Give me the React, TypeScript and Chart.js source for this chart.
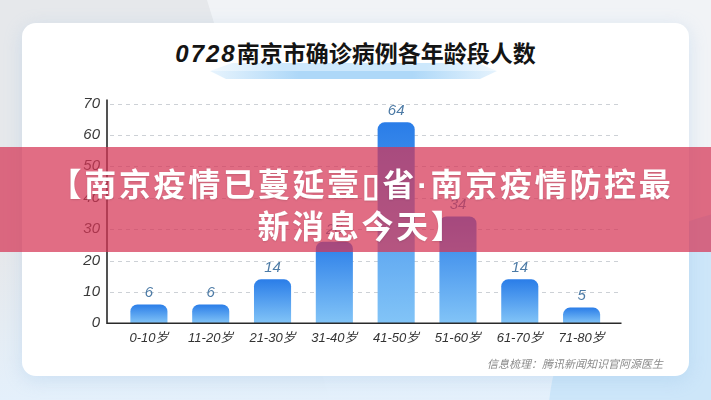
import React, { useEffect, useRef } from "react";
import { Chart, registerables } from "chart.js";

Chart.register(...registerables);

// ---- data ----
const categories = ["0-10岁", "11-20岁", "21-30岁", "31-40岁", "41-50岁", "51-60岁", "61-70岁", "71-80岁"];
const cases = [6, 6, 14, 26, 64, 34, 14, 5];
const yMin = 0;
const yMax = 70;
const yStep = 10;
const titleDigits = "0728";
const titleRest = "南京市确诊病例各年龄段人数";
const sourceText = "信息梳理：腾讯新闻知识官阿源医生";
const bannerLine1a = "【南京疫情已蔓延壹▯省";
const bannerDot = "·";
const bannerLine1b = "南京疫情防控最";
const bannerLine2 = "新消息今天】";

const numFont = "'Liberation Sans', 'Noto Sans CJK SC', sans-serif";

const customDraw = {
  id: "customDraw",
  beforeDatasetsDraw(chart: any) {
    const { ctx, chartArea, scales } = chart;
    const y = scales.y;
    const axisX = chartArea.left - 11;
    ctx.save();
    ctx.strokeStyle = "#cdd1d6";
    ctx.lineWidth = 1;
    ctx.setLineDash([4, 4]);
    y.ticks.forEach((t: any) => {
      if (t.value === yMin) return;
      const py = Math.round(y.getPixelForValue(t.value)) + 0.5;
      ctx.beginPath();
      ctx.moveTo(axisX + 3, py);
      ctx.lineTo(chartArea.right + 7, py);
      ctx.stroke();
    });
    ctx.restore();
  },
  afterDatasetsDraw(chart: any) {
    const { ctx, chartArea, scales } = chart;
    const y = scales.y;
    const axisX = chartArea.left - 11;
    const y0 = y.getPixelForValue(yMin);
    ctx.save();
    ctx.strokeStyle = "#2a2a2a";
    ctx.lineWidth = 1.6;
    ctx.beginPath();
    ctx.moveTo(axisX, y.getPixelForValue(yMax) - 4);
    ctx.lineTo(axisX, y0);
    ctx.lineTo(chartArea.right + 9, y0);
    ctx.stroke();

    // value labels
    const meta = chart.getDatasetMeta(0);
    ctx.fillStyle = "#4d7ba6";
    ctx.font = "italic 15px " + numFont;
    ctx.textAlign = "center";
    ctx.textBaseline = "middle";
    meta.data.forEach((bar: any, i: number) => {
      ctx.fillText(String(chart.data.datasets[0].data[i]), bar.x, bar.y - 12);
    });
    ctx.restore();
  },
};

export default function App() {
  const canvasRef = useRef<HTMLCanvasElement>(null);

  useEffect(() => {
    const chart = new Chart(canvasRef.current!, {
      type: "bar",
      data: {
        labels: categories,
        datasets: [
          {
            data: cases,
            backgroundColor: (c: any) => {
              const ch = c.chart;
              const { chartArea, scales } = ch;
              if (!chartArea || !scales.y || c.raw === undefined) return "#2f84e8";
              const top = scales.y.getPixelForValue(c.raw);
              const base = scales.y.getPixelForValue(yMin);
              if (!isFinite(top) || !isFinite(base) || base - top < 1) return "#2f84e8";
              const g = ch.ctx.createLinearGradient(0, top, 0, base);
              g.addColorStop(0, "#2a7de8");
              g.addColorStop(1, "#82c4f7");
              return g;
            },
            borderRadius: 7,
            borderSkipped: "start",
            barPercentage: 0.6,
            categoryPercentage: 1,
          },
        ],
      },
      options: {
        responsive: false,
        animation: false,
        events: [],
        layout: { padding: { left: 0, top: 103.5, right: 98.5, bottom: 0 } },
        plugins: {
          legend: { display: false },
          tooltip: { enabled: false },
          title: { display: false },
        },
        scales: {
          x: {
            offset: true,
            grid: { display: false, drawTicks: false },
            border: { display: false },
            ticks: {
              color: "#333333",
              padding: 7,
              font: { family: numFont, size: 13, style: "italic" },
            },
            afterFit: (s: any) => {
              s.height = 76.7;
            },
          },
          y: {
            min: yMin,
            max: yMax,
            grid: { display: false, drawTicks: false },
            border: { display: false },
            ticks: {
              stepSize: yStep,
              color: "#3a3a3a",
              padding: 18,
              font: { family: numFont, size: 15, style: "italic" },
            },
            afterFit: (s: any) => {
              s.width = 118;
            },
          },
        },
      },
      plugins: [customDraw],
    });
    return () => chart.destroy();
  }, []);

  return (
    <div
      style={{
        position: "absolute",
        left: 0,
        top: 0,
        width: 711,
        height: 400,
        overflow: "hidden",
        background: "#f1f3f6",
        fontFamily: "'Noto Sans CJK SC', sans-serif",
      }}
    >
      <div
        style={{
          position: "absolute",
          inset: 0,
          background: "#e6e8eb",
          clipPath: "polygon(0 0, 207px 0, 330px 400px, 0 400px)",
        }}
      />
      <div
        style={{
          position: "absolute",
          left: 0,
          top: 250,
          width: 711,
          height: 150,
          background: "linear-gradient(180deg, rgba(226,239,251,0) 0%, #e4f0fb 100%)",
        }}
      />
      <div
        style={{
          position: "absolute",
          left: 548,
          top: 208,
          width: 430,
          height: 430,
          borderRadius: "50%",
          background: "#cde6f9",
        }}
      />
      {/* card */}
      <div
        style={{
          position: "absolute",
          left: 22,
          top: 23,
          width: 667,
          height: 353,
          borderRadius: 14,
          background: "#ffffff",
          boxShadow: "0 4px 18px rgba(140,185,230,0.28)",
        }}
      />
      {/* ribbon under title */}
      <div
        style={{
          position: "absolute",
          left: 0,
          top: 0,
          width: 711,
          height: 400,
          background: "linear-gradient(90deg, rgba(200,230,252,0.2) 29%, #cde8fc 40%, #cde8fc 60%, rgba(200,230,252,0.2) 71%)",
          clipPath: "polygon(232px 63px, 478px 63px, 497px 71px, 210px 71px)",
        }}
      />
      <div
        style={{
          position: "absolute",
          left: 0,
          top: 0,
          width: 711,
          height: 400,
          background: "linear-gradient(90deg, rgba(170,214,248,0.3) 30%, #aed8f8 42%, #aed8f8 58%, rgba(170,214,248,0.3) 70%)",
          clipPath: "polygon(210px 71px, 497px 71px, 480px 79px, 226px 79px)",
        }}
      />
      {/* title */}
      <div
        style={{
          position: "absolute",
          left: 0,
          top: 36,
          width: 711,
          textAlign: "center",
          fontSize: 23,
          lineHeight: "32px",
          fontWeight: 700,
          color: "#141414",
          whiteSpace: "nowrap",
        }}
      >
        <span style={{ fontStyle: "italic", fontFamily: numFont, letterSpacing: 2, fontSize: 24 }}>{titleDigits}</span>
        {titleRest}
      </div>
      <canvas
        ref={canvasRef}
        width={711}
        height={400}
        style={{ position: "absolute", left: 0, top: 0, width: 711, height: 400 }}
      />
      {/* source */}
      <div
        style={{
          position: "absolute",
          right: 48,
          top: 355,
          fontSize: 11,
          lineHeight: "16px",
          fontStyle: "italic",
          color: "#8a8a8a",
          whiteSpace: "nowrap",
        }}
      >
        {sourceText}
      </div>
      {/* overlay banner */}
      <div
        style={{
          position: "absolute",
          left: 0,
          top: 147,
          width: 711,
          height: 105,
          background: "rgba(214,52,84,0.72)",
        }}
      />
      <div
        style={{
          position: "absolute",
          left: 6,
          top: 163,
          width: 711,
          textAlign: "center",
          color: "#ffffff",
          fontWeight: 700,
          fontSize: 32,
          letterSpacing: 2.7,
          lineHeight: "39px",
          whiteSpace: "nowrap",
          textShadow: "0 1px 2px rgba(0,0,0,0.12)",
        }}
      >
        <div>
          {bannerLine1a}
          <span style={{ fontFamily: numFont }}>{bannerDot}</span>
          {bannerLine1b}
        </div>
        <div>{bannerLine2}</div>
      </div>
    </div>
  );
}
